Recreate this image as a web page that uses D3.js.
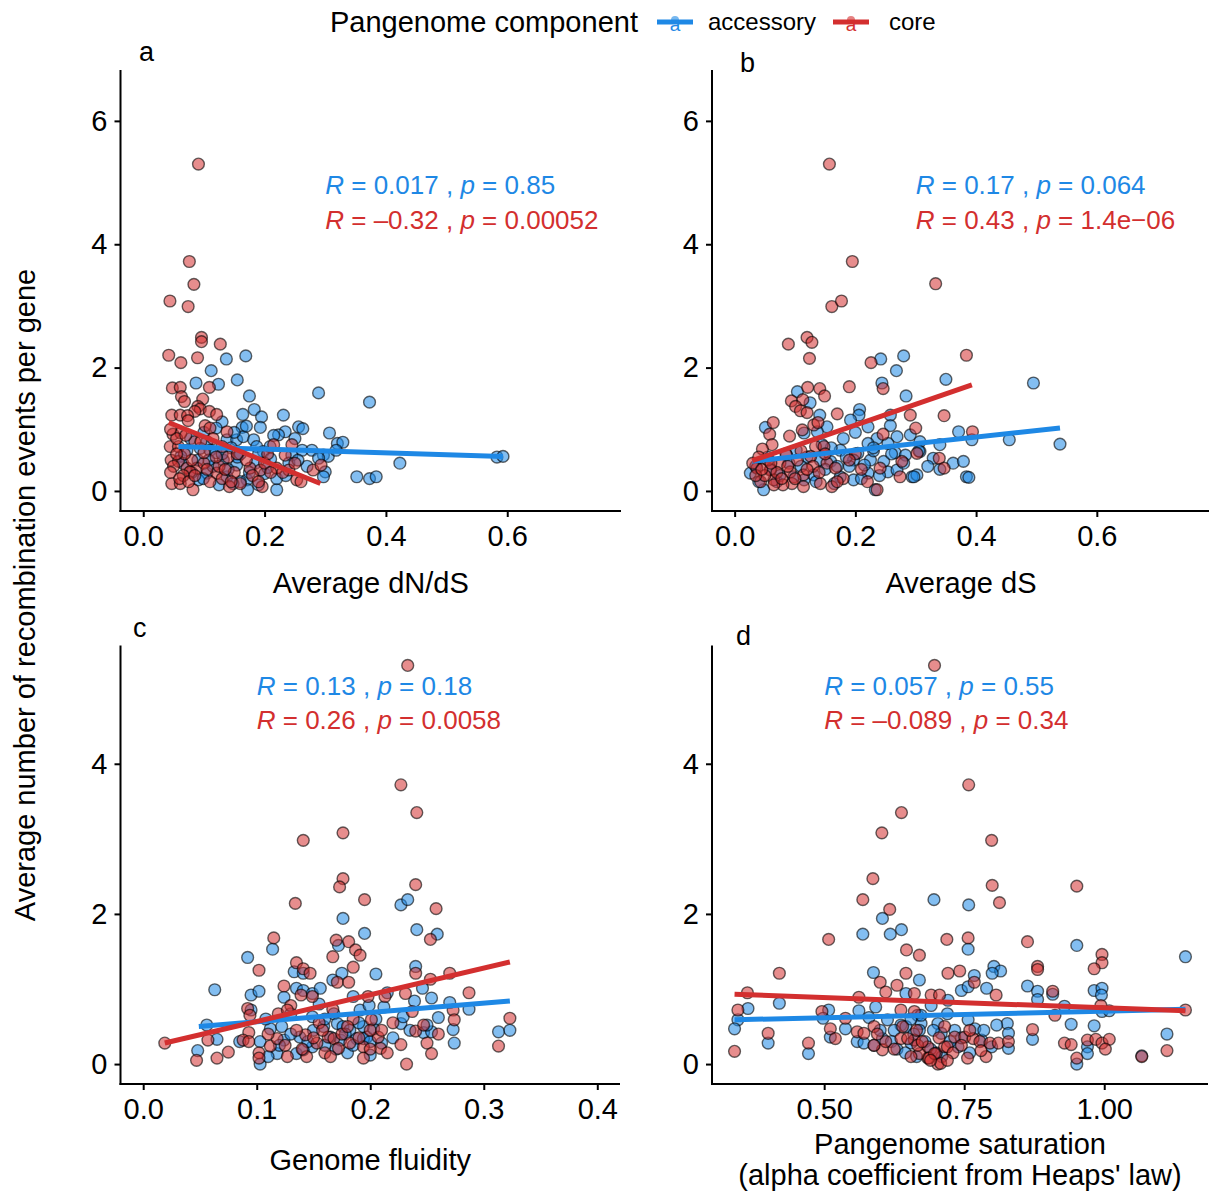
<!DOCTYPE html>
<html>
<head>
<meta charset="utf-8">
<script src="https://cdn.jsdelivr.net/npm/d3@7"></script>
<style>
  body { margin: 0; background: #fff; }
  svg text { font-family: "Liberation Sans", Arial, Helvetica, sans-serif; fill: #000; }
</style>
</head>
<body>
<svg id="chart" width="1209" height="1191"></svg>
<script>
// ── Data ──────────────────────────────────────────────────────────────────────

const groups = ["accessory", "core"];

// a: average dN/dS vs recombination events per gene
const dndsAcc = [[0.087,1.75],[0.112,1.95],[0.137,2.14],[0.169,2.19],[0.124,1.73],[0.155,1.8],[0.175,1.54],[0.183,1.32],[0.195,1.2],[0.164,1.24],[0.231,1.23],[0.289,1.59],[0.193,1.03],[0.163,1.03],[0.256,1.04],[0.263,1.01],[0.234,0.96],[0.223,0.91],[0.307,0.94],[0.32,0.77],[0.329,0.79],[0.13,1.12],[0.12,1.02],[0.105,0.8],[0.138,0.83],[0.154,0.83],[0.165,0.88],[0.182,0.83],[0.072,0.66],[0.062,0.56],[0.094,0.69],[0.11,0.66],[0.187,0.72],[0.198,0.64],[0.209,0.72],[0.245,0.58],[0.262,0.66],[0.278,0.66],[0.297,0.58],[0.305,0.56],[0.3,0.31],[0.297,0.23],[0.132,0.5],[0.154,0.42],[0.138,0.23],[0.105,0.29],[0.171,0.18],[0.172,0.02],[0.22,0.02],[0.22,0.2],[0.091,0.18],[0.099,0.2],[0.352,0.23],[0.373,1.44],[0.289,0.53],[0.423,0.45],[0.373,0.2],[0.384,0.23],[0.583,0.55],[0.593,0.56],[0.08,0.3],[0.12,0.62],[0.145,0.7],[0.16,0.15],[0.185,0.45],[0.2,0.28],[0.21,0.52],[0.24,0.45],[0.25,0.85],[0.15,0.95],[0.17,1.05],[0.115,0.4],[0.14,0.35],[0.19,0.1],[0.125,0.1],[0.27,0.4],[0.318,0.66],[0.065,0.45],[0.078,0.85],[0.1,0.95],[0.13,0.6],[0.155,0.55],[0.175,0.3],[0.19,0.6],[0.205,0.38],[0.215,0.9],[0.235,0.25],[0.255,0.5],[0.16,0.6],[0.148,0.12],[0.108,0.5],[0.09,0.5]];
const dndsCore = [[0.091,5.3],[0.076,3.72],[0.0835,3.35],[0.044,3.08],[0.074,2.99],[0.096,2.49],[0.096,2.42],[0.127,2.38],[0.042,2.2],[0.062,2.08],[0.0895,2.16],[0.109,1.68],[0.048,1.67],[0.061,1.68],[0.063,1.53],[0.068,1.45],[0.098,1.49],[0.09,1.37],[0.094,1.33],[0.085,1.29],[0.109,1.29],[0.047,1.23],[0.061,1.23],[0.073,1.22],[0.121,1.24],[0.074,1.14],[0.102,1.06],[0.049,0.92],[0.062,0.94],[0.138,0.96],[0.0445,0.72],[0.058,0.72],[0.046,0.5],[0.058,0.48],[0.072,0.37],[0.0885,0.37],[0.077,0.31],[0.121,0.29],[0.047,0.12],[0.061,0.12],[0.082,0.02],[0.142,0.07],[0.196,0.07],[0.22,0.37],[0.24,0.34],[0.253,0.18],[0.28,0.34],[0.245,0.75],[0.215,0.75],[0.234,0.58],[0.176,0.37],[0.193,0.34],[0.293,0.42],[0.13,0.72],[0.11,1.02],[0.05,0.4],[0.066,0.25],[0.08,0.5],[0.1,0.45],[0.11,0.15],[0.125,0.4],[0.13,0.2],[0.15,0.3],[0.16,0.12],[0.14,0.55],[0.17,0.5],[0.18,0.25],[0.2,0.45],[0.205,0.6],[0.23,0.3],[0.26,0.15],[0.055,0.85],[0.085,0.8],[0.1,0.62],[0.115,0.85],[0.068,0.6],[0.045,0.3],[0.055,0.6],[0.06,0.2],[0.07,0.9],[0.075,0.15],[0.085,0.25],[0.095,0.8],[0.105,0.35],[0.12,0.55],[0.135,0.35],[0.145,0.15],[0.155,0.6],[0.19,0.15],[0.21,0.3],[0.25,0.45],[0.045,1.0]];

// b: average dS
const dsAcc = [[0.28,2.19],[0.242,2.14],[0.268,1.95],[0.35,1.81],[0.244,1.75],[0.104,1.61],[0.125,1.43],[0.284,1.54],[0.207,1.32],[0.206,1.23],[0.141,1.23],[0.258,1.23],[0.192,1.15],[0.221,1.04],[0.258,1.06],[0.153,1.04],[0.051,1.03],[0.371,0.96],[0.115,0.94],[0.137,0.96],[0.236,0.85],[0.269,0.88],[0.291,0.91],[0.307,0.8],[0.221,0.77],[0.254,0.77],[0.34,0.75],[0.393,0.83],[0.175,0.66],[0.204,0.61],[0.102,0.66],[0.086,0.58],[0.266,0.62],[0.283,0.58],[0.307,0.64],[0.329,0.53],[0.362,0.45],[0.379,0.48],[0.142,0.5],[0.159,0.48],[0.197,0.5],[0.225,0.5],[0.247,0.48],[0.026,0.29],[0.048,0.02],[0.175,0.23],[0.197,0.18],[0.221,0.29],[0.254,0.31],[0.269,0.34],[0.294,0.23],[0.302,0.26],[0.233,0.02],[0.384,0.23],[0.098,0.23],[0.115,0.18],[0.131,0.26],[0.495,1.75],[0.455,0.83],[0.539,0.76],[0.305,0.65],[0.297,0.23],[0.388,0.22],[0.035,0.4],[0.06,0.35],[0.07,0.15],[0.09,0.45],[0.12,0.55],[0.16,0.7],[0.18,0.85],[0.2,0.95],[0.23,0.65],[0.15,0.35],[0.19,0.4],[0.21,0.2],[0.165,0.12],[0.34,0.35],[0.04,0.15],[0.055,0.55],[0.075,0.25],[0.11,0.4],[0.135,0.15],[0.145,0.75],[0.17,0.4],[0.185,0.55],[0.215,0.42],[0.24,0.25],[0.26,0.6],[0.28,0.45],[0.32,0.4],[0.23,0.7]];
const dsCore = [[0.157,5.3],[0.195,3.72],[0.333,3.36],[0.161,2.99],[0.177,3.08],[0.089,2.38],[0.12,2.49],[0.128,2.41],[0.124,2.15],[0.226,2.08],[0.384,2.2],[0.121,1.68],[0.141,1.66],[0.149,1.54],[0.19,1.69],[0.246,1.66],[0.094,1.46],[0.113,1.48],[0.101,1.37],[0.109,1.3],[0.12,1.27],[0.17,1.25],[0.064,1.11],[0.058,0.92],[0.112,0.99],[0.131,1.07],[0.138,1.11],[0.291,1.23],[0.347,1.22],[0.3,1.02],[0.246,0.92],[0.091,0.89],[0.062,0.75],[0.046,0.68],[0.134,0.72],[0.148,0.72],[0.037,0.37],[0.059,0.34],[0.043,0.15],[0.065,0.18],[0.092,0.31],[0.114,0.26],[0.095,0.12],[0.114,0.07],[0.142,0.12],[0.161,0.07],[0.104,0.5],[0.126,0.56],[0.153,0.45],[0.167,0.37],[0.241,0.37],[0.277,0.48],[0.274,0.23],[0.302,0.61],[0.236,0.02],[0.339,0.53],[0.347,0.37],[0.394,0.96],[0.03,0.45],[0.05,0.25],[0.075,0.45],[0.08,0.1],[0.085,0.6],[0.13,0.4],[0.18,0.2],[0.2,0.6],[0.21,0.35],[0.055,0.5],[0.07,0.3],[0.035,0.25],[0.04,0.55],[0.045,0.35],[0.06,0.45],[0.065,0.1],[0.078,0.2],[0.088,0.4],[0.1,0.2],[0.11,0.65],[0.12,0.35],[0.14,0.3],[0.15,0.6],[0.17,0.15],[0.19,0.5],[0.22,0.15]];

// c: genome fluidity
const fluidAcc = [[0.176,1.94],[0.195,1.74],[0.172,1.58],[0.092,1.42],[0.114,1.53],[0.063,0.99],[0.095,0.92],[0.102,0.97],[0.133,1.23],[0.141,1.21],[0.135,1.01],[0.141,0.98],[0.149,0.94],[0.156,1.01],[0.167,1.12],[0.175,1.21],[0.124,0.89],[0.13,0.67],[0.056,0.52],[0.065,0.33],[0.048,0.18],[0.095,0.72],[0.112,0.47],[0.103,0.3],[0.103,0],[0.122,0.5],[0.124,0.32],[0.135,0.14],[0.149,0.23],[0.138,0.36],[0.149,0.63],[0.159,0.5],[0.168,0.67],[0.171,0.54],[0.176,0.5],[0.182,0.45],[0.191,0.72],[0.194,0.5],[0.165,0.36],[0.174,0.32],[0.188,0.34],[0.197,0.36],[0.118,0.14],[0.141,0.19],[0.227,2.12],[0.233,2.19],[0.241,1.79],[0.259,1.73],[0.24,1.3],[0.246,1.01],[0.254,0.88],[0.239,0.84],[0.27,0.82],[0.287,0.73],[0.212,0.76],[0.199,0.78],[0.203,0.47],[0.227,0.54],[0.229,0.63],[0.247,0.42],[0.254,0.43],[0.25,0.52],[0.273,0.46],[0.274,0.28],[0.313,0.43],[0.323,0.45],[0.194,0.34],[0.21,0.28],[0.16,0.25],[0.18,0.15],[0.2,0.12],[0.155,0.8],[0.185,0.9],[0.205,1.2],[0.215,0.95],[0.085,0.3],[0.11,0.1],[0.12,0.25],[0.13,0.4],[0.145,0.3],[0.15,0.45],[0.16,0.6],[0.17,0.2],[0.178,0.4],[0.185,0.25],[0.19,0.55],[0.2,0.3],[0.205,0.6],[0.22,0.35],[0.235,0.45],[0.26,0.62],[0.108,0.6]];
const fluidCore = [[0.019,0.28],[0.141,2.98],[0.176,3.08],[0.176,2.47],[0.173,2.36],[0.134,2.14],[0.195,2.19],[0.115,1.68],[0.17,1.65],[0.181,1.63],[0.167,1.43],[0.187,1.52],[0.191,1.45],[0.102,1.25],[0.135,1.35],[0.141,1.27],[0.147,1.21],[0.185,1.29],[0.171,1.09],[0.181,1.09],[0.124,1.04],[0.149,0.9],[0.139,0.92],[0.092,0.74],[0.094,0.65],[0.13,0.78],[0.167,0.73],[0.057,0.32],[0.093,0.42],[0.088,0.32],[0.093,0.3],[0.047,0.05],[0.065,0.08],[0.075,0.16],[0.102,0.15],[0.102,0.08],[0.112,0.24],[0.118,0.34],[0.127,0.1],[0.143,0.39],[0.144,0.1],[0.153,0.28],[0.163,0.36],[0.168,0.34],[0.172,0.21],[0.182,0.28],[0.194,0.23],[0.119,0.67],[0.127,0.72],[0.233,5.31],[0.227,3.72],[0.241,3.35],[0.24,2.39],[0.258,2.07],[0.253,1.66],[0.24,1.21],[0.27,1.21],[0.253,1.13],[0.213,0.9],[0.198,0.9],[0.231,0.94],[0.287,0.95],[0.201,0.59],[0.273,0.72],[0.274,0.59],[0.24,0.44],[0.247,0.52],[0.323,0.61],[0.227,0.26],[0.25,0.28],[0.254,0.14],[0.313,0.24],[0.232,0],[0.194,0.08],[0.209,0.21],[0.207,0.36],[0.155,0.55],[0.16,0.15],[0.185,0.6],[0.2,0.45],[0.215,0.15],[0.11,0.4],[0.125,0.25],[0.135,0.45],[0.14,0.2],[0.15,0.35],[0.158,0.45],[0.165,0.1],[0.175,0.4],[0.18,0.5],[0.19,0.35],[0.2,0.2],[0.21,0.45],[0.22,0.55],[0.237,0.7],[0.26,0.4]];

// d: pangenome saturation (Heaps' law alpha)
const satAcc = [[0.696,2.19],[0.604,1.94],[0.638,1.79],[0.618,1.73],[0.569,1.73],[0.588,1.22],[0.67,1.12],[0.364,0.74],[0.42,0.81],[0.508,0.72],[0.562,0.71],[0.592,0.76],[0.346,0.59],[0.34,0.47],[0.4,0.28],[0.472,0.14],[0.498,0.61],[0.511,0.36],[0.538,0.47],[0.559,0.3],[0.571,0.28],[0.589,0.25],[0.604,0.34],[0.613,0.59],[0.637,0.52],[0.646,0.94],[0.667,0.65],[0.673,0.54],[0.691,0.78],[0.703,0.54],[0.72,0.67],[0.758,2.12],[0.757,1.53],[0.951,1.58],[1.145,1.43],[0.803,1.3],[0.815,1.24],[0.8,1.21],[0.768,1.18],[0.863,1.04],[0.881,0.97],[0.881,0.86],[0.908,0.93],[0.982,0.98],[0.996,1.01],[0.995,0.92],[0.745,0.98],[0.757,1.03],[0.79,1.01],[0.721,0.85],[0.929,0.77],[0.996,0.7],[1.009,0.71],[0.941,0.53],[0.982,0.51],[1.112,0.4],[0.827,0.54],[0.829,0.41],[0.829,0.21],[0.872,0.33],[0.97,0.23],[0.97,0.14],[0.951,0],[1.067,0.11],[0.733,0.45],[0.739,0.23],[0.757,0.59],[0.769,0.47],[0.781,0.32],[0.799,0.23],[0.808,0.52],[0.67,0.45],[0.655,0.28],[0.709,0.41],[0.673,0.65],[0.646,0.5],[0.68,0.3],[0.7,0.15],[0.66,0.4],[0.625,0.45],[0.62,0.3],[0.63,0.2],[0.645,0.15],[0.655,0.6],[0.665,0.1],[0.69,0.2],[0.695,0.45],[0.71,0.1],[0.725,0.3],[0.745,0.35],[0.76,0.15],[0.785,0.45],[0.6,0.45],[0.58,0.62]];
const satCore = [[0.697,5.31],[0.638,3.35],[0.603,3.08],[0.587,2.47],[0.569,2.19],[0.617,2.06],[0.508,1.66],[0.647,1.52],[0.67,1.45],[0.719,1.66],[0.42,1.21],[0.646,1.21],[0.6,1.09],[0.63,1.05],[0.363,0.95],[0.346,0.72],[0.562,0.89],[0.691,0.92],[0.706,0.92],[0.61,0.96],[0.4,0.41],[0.34,0.17],[0.472,0.28],[0.496,0.7],[0.511,0.47],[0.52,0.34],[0.538,0.61],[0.559,0.43],[0.571,0.41],[0.589,0.5],[0.604,0.19],[0.589,0.25],[0.637,0.34],[0.661,0.32],[0.685,0.23],[0.7,0.14],[0.703,0],[0.685,0.08],[0.67,0.14],[0.715,0.23],[0.637,0.72],[0.661,0.7],[0.758,3.72],[0.799,2.98],[0.8,2.38],[0.813,2.15],[0.951,2.37],[0.757,1.68],[0.863,1.63],[0.996,1.46],[0.996,1.35],[0.982,1.27],[0.881,1.3],[0.881,1.26],[0.721,1.21],[0.742,1.24],[0.768,1.09],[0.807,0.92],[0.908,0.97],[0.661,0.94],[0.994,0.78],[0.912,0.65],[1.145,0.72],[1.112,0.18],[1.067,0.1],[0.872,0.46],[0.929,0.28],[0.941,0.26],[0.97,0.32],[0.985,0.33],[0.996,0.28],[1.009,0.33],[1.002,0.2],[0.951,0.08],[0.733,0.36],[0.751,0.36],[0.766,0.34],[0.778,0.3],[0.796,0.28],[0.811,0.28],[0.829,0.3],[0.687,0.08],[0.708,0.01],[0.72,0.23],[0.756,0.08],[0.789,0.1],[0.649,0.34],[0.667,0.25],[0.697,0.14],[0.61,0.3],[0.625,0.2],[0.64,0.5],[0.655,0.1],[0.665,0.45],[0.675,0.3],[0.69,0.05],[0.705,0.35],[0.715,0.5],[0.73,0.15],[0.745,0.25],[0.76,0.45],[0.78,0.18],[0.595,0.4],[0.72,0.05]];

// fitted regression lines: [start, end] as [x, y]
const fitDndsAcc  = [[0.058, 0.72], [0.593, 0.56]];
const fitDndsCore = [[0.042, 1.11], [0.292, 0.12]];
const fitDsAcc    = [[0.029, 0.48], [0.539, 1.02]];
const fitDsCore   = [[0.029, 0.49], [0.393, 1.72]];
const fitFluidAcc  = [[0.049, 0.50], [0.323, 0.84]];
const fitFluidCore = [[0.019, 0.28], [0.323, 1.36]];
const fitSatAcc   = [[0.34, 0.59], [1.145, 0.73]];
const fitSatCore  = [[0.34, 0.93], [1.145, 0.71]];

// correlation labels: [accessory, core]
const corrDnds  = [["0.017", "0.85"], ["\u20130.32", "0.00052"]];
const corrDs    = [["0.17", "0.064"], ["0.43", "1.4e\u221206"]];
const corrFluid = [["0.13", "0.18"], ["0.26", "0.0058"]];
const corrSat   = [["0.057", "0.55"], ["\u20130.089", "0.34"]];

const ticksA = [0, 0.2, 0.4, 0.6];
const ticksC = [0, 0.1, 0.2, 0.3, 0.4];
const ticksD = [0.5, 0.75, 1.0];
const ticksYab = [0, 2, 4, 6];
const ticksYcd = [0, 2, 4];

// ── Styling ───────────────────────────────────────────────────────────────────

const COLOR = { accessory: "#1E88E5", core: "#D32F2F" };
const FONT = 29;

const svg = d3.select("#chart");

const expand = ([a, b]) => [a - (b - a) * 0.05, b + (b - a) * 0.05];

const panels = [
  { tag: "a", tagPos: [139, 61], acc: dndsAcc, core: dndsCore, fits: [fitDndsAcc, fitDndsCore], corr: corrDnds,
    xLim: [0, 0.75], yLim: [0, 6.5], xTicks: ticksA, yTicks: ticksYab, fmt: d3.format(".1f"),
    box: { left: 120.5, right: 621, top: 70, bottom: 511 }, lab: [0.3, 4.96], title: ["Average dN/dS"], titleY: 583 },
  { tag: "b", tagPos: [740, 72], acc: dsAcc, core: dsCore, fits: [fitDsAcc, fitDsCore], corr: corrDs,
    xLim: [0, 0.75], yLim: [0, 6.5], xTicks: ticksA, yTicks: ticksYab, fmt: d3.format(".1f"),
    box: { left: 712, right: 1210, top: 70, bottom: 511 }, lab: [0.3, 4.96], title: ["Average dS"], titleY: 583 },
  { tag: "c", tagPos: [133, 637], acc: fluidAcc, core: fluidCore, fits: [fitFluidAcc, fitFluidCore], corr: corrFluid,
    xLim: [0, 0.4], yLim: [0, 5.31], xTicks: ticksC, yTicks: ticksYcd, fmt: d3.format(".1f"),
    box: { left: 120.5, right: 620, top: 645.5, bottom: 1084 }, lab: [0.1, 5.04], title: ["Genome fluidity"], titleY: 1160 },
  { tag: "d", tagPos: [736, 645], acc: satAcc, core: satCore, fits: [fitSatAcc, fitSatCore], corr: corrSat,
    xLim: [0.34, 1.145], yLim: [0, 5.31], xTicks: ticksD, yTicks: ticksYcd, fmt: d3.format(".2f"),
    box: { left: 712, right: 1208, top: 645.5, bottom: 1084 }, lab: [0.5, 5.04],
    title: ["Pangenome saturation", "(alpha coefficient from Heaps' law)"], titleY: 1144 },
];

function drawPanel(p) {
  const b = p.box;
  const x = d3.scaleLinear().domain(expand(p.xLim)).range([b.left, b.right]);
  const y = d3.scaleLinear().domain(expand(p.yLim)).range([b.bottom, b.top]);
  const g = svg.append("g");

  // axes
  const xAxis = g.append("g").attr("transform", `translate(0,${b.bottom})`)
    .call(d3.axisBottom(x).tickValues(p.xTicks).tickFormat(p.fmt).tickSize(6).tickSizeOuter(0).tickPadding(8));
  const yAxis = g.append("g").attr("transform", `translate(${b.left},0)`)
    .call(d3.axisLeft(y).tickValues(p.yTicks).tickFormat(d3.format("d")).tickSize(6).tickSizeOuter(0).tickPadding(7));
  [xAxis, yAxis].forEach(a => {
    a.selectAll("path, line").attr("stroke", "#000").attr("stroke-width", 2);
    a.selectAll("text").attr("font-size", FONT).attr("fill", "#000")
      .style("font-family", '"Liberation Sans", Arial, sans-serif');
  });
  yAxis.select(".domain").attr("d", `M0,${b.top}V${b.bottom + 1}`);
  xAxis.select(".domain").attr("d", `M${b.left - 1},0H${b.right}`);

  // points
  const pts = g.append("g");
  groups.forEach(grp => {
    pts.selectAll(null).data(grp === "accessory" ? p.acc : p.core).enter().append("circle")
      .attr("cx", d => x(d[0])).attr("cy", d => y(d[1])).attr("r", 5.9)
      .attr("fill", COLOR[grp]).attr("fill-opacity", 0.55)
      .attr("stroke", "#000").attr("stroke-opacity", 0.6).attr("stroke-width", 1.4);
  });

  // regression lines
  const line = d3.line().x(d => x(d[0])).y(d => y(d[1]));
  groups.forEach((grp, i) => {
    g.append("path").attr("d", line(p.fits[i]))
      .attr("fill", "none").attr("stroke", COLOR[grp]).attr("stroke-width", 5);
  });

  // correlation labels
  p.corr.forEach(([r, pv], i) => {
    const t = g.append("text")
      .attr("x", x(p.lab[0])).attr("y", y(p.lab[1]) + i * 34.5).attr("dy", "0.35em")
      .attr("font-size", 26).style("fill", COLOR[groups[i]]);
    t.append("tspan").attr("font-style", "italic").text("R");
    t.append("tspan").text(` = ${r} , `);
    t.append("tspan").attr("font-style", "italic").text("p");
    t.append("tspan").text(` = ${pv}`);
  });

  // axis title
  p.title.forEach((s, i) => {
    g.append("text").attr("x", (b.left + b.right) / 2).attr("y", p.titleY + i * 31)
      .attr("dy", "0.35em").attr("text-anchor", "middle").attr("font-size", FONT).text(s);
  });

  // panel tag
  g.append("text").attr("x", p.tagPos[0]).attr("y", p.tagPos[1]).attr("font-size", 27).text(p.tag);
}

panels.forEach(drawPanel);

// shared y title
svg.append("text")
  .attr("transform", "translate(25,595) rotate(-90)")
  .attr("dy", "0.35em").attr("text-anchor", "middle").attr("font-size", FONT)
  .text("Average number of recombination events per gene");

// legend
const legend = svg.append("g");
legend.append("text").attr("x", 330).attr("y", 22).attr("dy", "0.35em")
  .attr("font-size", FONT).text("Pangenome component");
const keys = [{ grp: "accessory", x0: 657, tx: 708 }, { grp: "core", x0: 833, tx: 889 }];
keys.forEach(k => {
  legend.append("line").attr("x1", k.x0).attr("x2", k.x0 + 36).attr("y1", 22).attr("y2", 22)
    .attr("stroke", COLOR[k.grp]).attr("stroke-width", 5);
  legend.append("circle").attr("cx", k.x0 + 18).attr("cy", 20).attr("r", 4)
    .attr("fill", COLOR[k.grp]).attr("fill-opacity", 0.6);
  legend.append("text").attr("x", k.x0 + 18).attr("y", 31).attr("text-anchor", "middle")
    .attr("font-size", 19).style("fill", COLOR[k.grp]).text("a");
  legend.append("text").attr("x", k.tx).attr("y", 22).attr("dy", "0.35em")
    .attr("font-size", 24).text(k.grp);
});
</script>
</body>
</html>
